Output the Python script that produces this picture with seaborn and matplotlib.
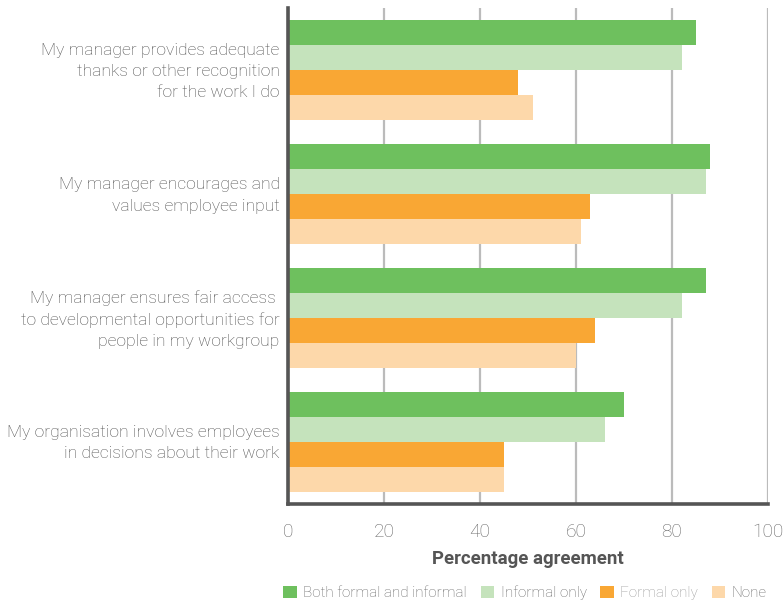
import matplotlib
matplotlib.use("Agg")
import matplotlib.pyplot as plt
import matplotlib.transforms as mtransforms
from matplotlib.patches import Patch
import pandas as pd
import seaborn as sns

statements = [
    "My manager provides adequate\nthanks or other recognition\nfor the work I do",
    "My manager encourages and\nvalues employee input",
    "My manager ensures fair access \nto developmental opportunities for\npeople in my workgroup",
    "My organisation involves employees\nin decisions about their work",
]
series = ["Both formal and informal", "Informal only", "Formal only", "None"]
both_formal_informal = [85, 88, 87, 70]
informal_only = [82, 87, 82, 66]
formal_only = [48, 63, 64, 45]
none = [51, 61, 60, 45]
x_ticks = [0, 20, 40, 60, 80, 100]

colors = ["#6EC05E", "#C5E3BC", "#F9A734", "#FDD8AA"]

rows = []
for name, vals in zip(series, [both_formal_informal, informal_only, formal_only, none]):
    for s, v in zip(statements, vals):
        rows.append({"Statement": s, "Recognition": name, "Percent": v})
df = pd.DataFrame(rows)

sns.set_theme(style="white")
plt.rcParams["font.family"] = ["Roboto", "DejaVu Sans"]

fig = plt.figure(figsize=(7.84, 6.04), dpi=100)
ax = fig.add_axes([288 / 784, 1 - 504 / 604, 480 / 784, 496 / 604])

sns.barplot(data=df, y="Statement", x="Percent", hue="Recognition",
            order=statements, hue_order=series, palette=colors,
            orient="h", width=0.8, saturation=1, linewidth=0,
            legend=False, ax=ax, errorbar=None)

ax.set_xlim(0, 100)
ax.set_ylim(3.5, -0.5)
ax.set_xticks(x_ticks)
ax.set_xticklabels([str(t) for t in x_ticks])
ax.xaxis.grid(True, color="#BBBBBB", linewidth=1.6)
ax.set_axisbelow(True)
ax.tick_params(axis="x", length=0, pad=14, labelsize=13.8, labelcolor="#666666")
ax.tick_params(axis="y", length=0, pad=6, labelsize=12.6, labelcolor="#505050")
for lbl in ax.get_xticklabels() + ax.get_yticklabels():
    lbl.set_fontweight("light")
# nudge the statement labels slightly upward
shift_up = mtransforms.ScaledTranslation(0, 3 / 100, fig.dpi_scale_trans)
for lbl in ax.get_yticklabels():
    lbl.set_horizontalalignment("right")
    lbl.set_multialignment("right")
    lbl.set_linespacing(1.5)
    lbl.set_transform(lbl.get_transform() + shift_up)

ax.set_ylabel("")
ax.set_xlabel("Percentage agreement", fontsize=13.4, fontweight="bold",
              color="#555555", labelpad=6)

for side in ["top", "right"]:
    ax.spines[side].set_visible(False)
for side in ["left", "bottom"]:
    ax.spines[side].set_color("#555555")
    ax.spines[side].set_linewidth(2.6)

handles = [Patch(facecolor=c, edgecolor="none") for c in colors]
leg = fig.legend(handles, series, loc="center", bbox_to_anchor=(525 / 784, 1 - 593 / 604),
                 ncol=4, frameon=False, fontsize=11, handlelength=0.9, handleheight=0.9,
                 handletextpad=0.4, columnspacing=0.9)
text_colors = ["#666666", "#666666", "#999999", "#666666"]
for t, c in zip(leg.get_texts(), text_colors):
    t.set_color(c)
    t.set_fontweight("light")

fig.savefig("out.png", dpi=100)
